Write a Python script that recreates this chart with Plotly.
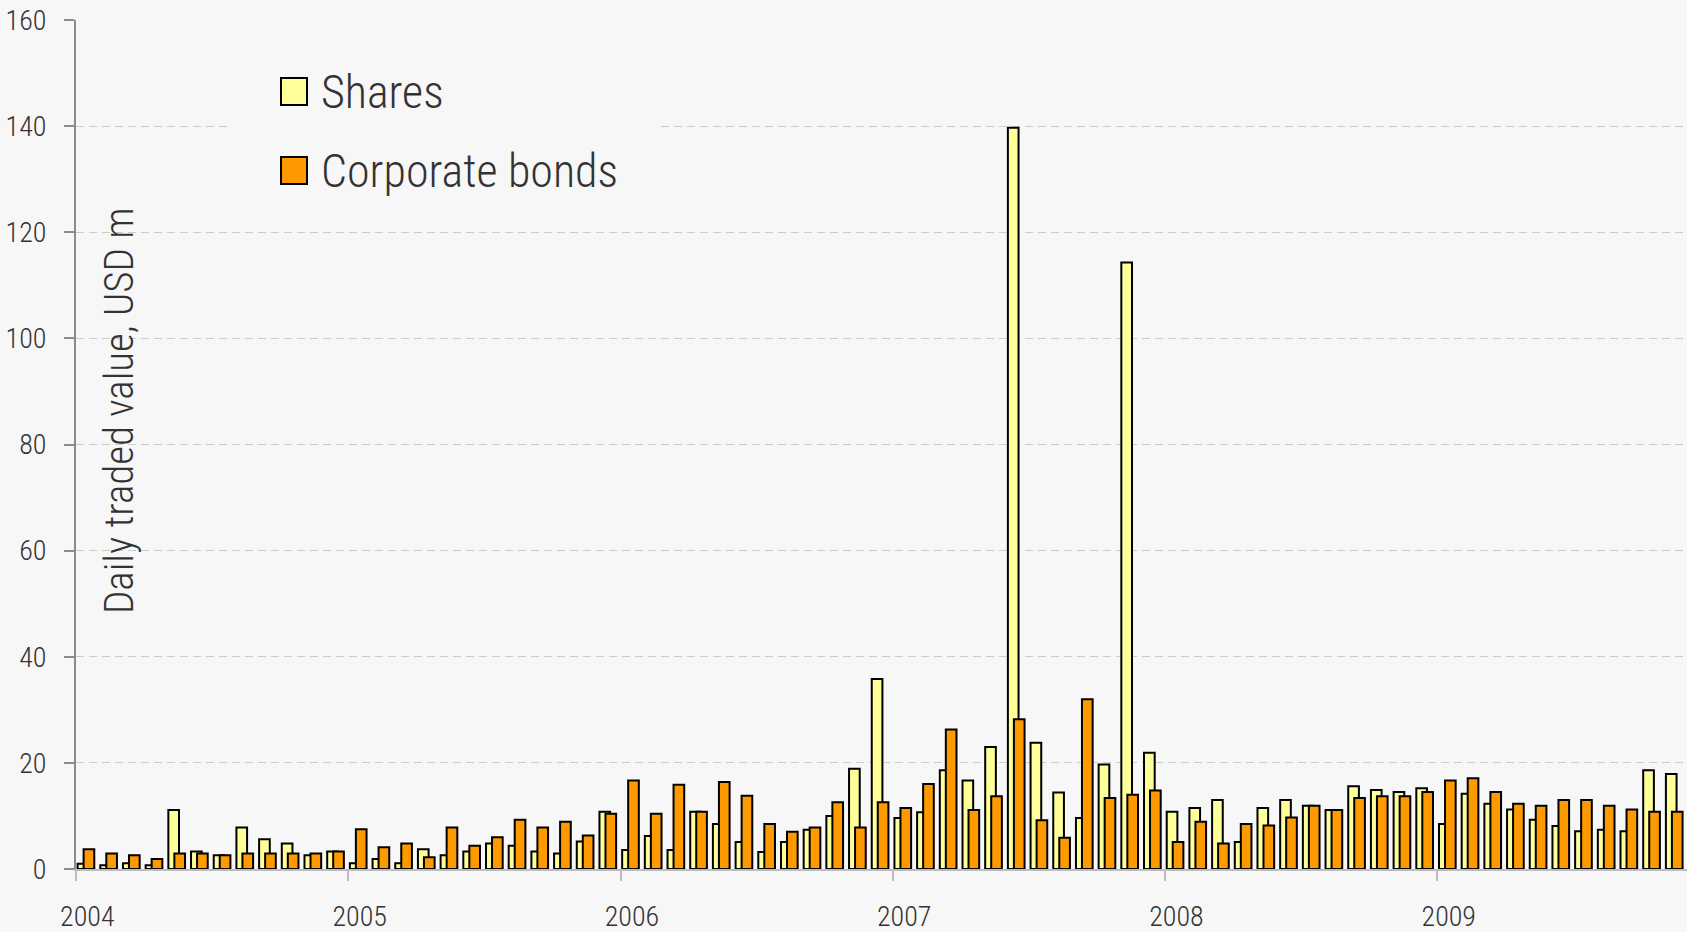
import plotly.graph_objects as go

years = ["2004", "2005", "2006", "2007", "2008", "2009"]
months_count = 71  # Jan 2004 .. Nov 2009

shares = [
    1.0, 0.7, 1.1, 0.7, 11.1, 3.3, 2.6, 7.8, 5.6, 4.8, 2.6, 3.3,
    1.1, 1.9, 1.1, 3.7, 2.6, 3.3, 4.8, 4.4, 3.3, 2.9, 5.2, 10.8,
    3.6, 6.2, 3.6, 10.8, 8.5, 5.1, 3.2, 5.1, 7.4, 10.0, 18.9, 35.8,
    9.6, 10.7, 18.6, 16.7, 23.0, 139.7, 23.8, 14.4, 9.6, 19.7, 114.3, 21.9,
    10.8, 11.5, 13.0, 5.1, 11.5, 13.0, 11.9, 11.1, 15.6, 14.9, 14.5, 15.2,
    8.5, 14.2, 12.3, 11.2, 9.3, 8.1, 7.1, 7.4, 7.1, 18.6, 17.9,
]
bonds = [
    3.7, 2.9, 2.6, 1.9, 2.9, 2.9, 2.6, 2.9, 2.9, 2.9, 2.9, 3.3,
    7.5, 4.1, 4.8, 2.2, 7.8, 4.4, 6.0, 9.3, 7.8, 8.9, 6.3, 10.4,
    16.7, 10.4, 15.9, 10.8, 16.4, 13.8, 8.5, 7.0, 7.8, 12.6, 7.8, 12.6,
    11.5, 16.0, 26.3, 11.1, 13.7, 28.2, 9.2, 5.9, 32.0, 13.4, 14.0, 14.8,
    5.1, 8.9, 4.8, 8.5, 8.2, 9.7, 11.9, 11.1, 13.4, 13.7, 13.7, 14.5,
    16.7, 17.1, 14.5, 12.3, 11.9, 13.0, 13.0, 11.9, 11.2, 10.8, 10.8,
]
series_names = ["Shares", "Corporate bonds"]
y_title = "Daily traded value, USD m"

x = list(range(months_count))
BG = "#f7f7f7"
FONT = "Roboto Condensed, Roboto, sans-serif"
TXT = "#333333"
YELLOW = "#ffff99"
ORANGE = "#ff9900"

fig = go.Figure()
fig.add_trace(go.Bar(x=x, y=shares, name=series_names[0], marker=dict(color=YELLOW, line=dict(color="black", width=2)),
                     offset=-0.43, width=0.47, showlegend=False))
fig.add_trace(go.Bar(x=x, y=bonds, name=series_names[1], marker=dict(color=ORANGE, line=dict(color="black", width=2)),
                     offset=-0.165, width=0.47, showlegend=False))

# plot area pixel geometry
L, R, T, B = 76, 1687, 20, 869
W, H = R - L, B - T
def px(v): return (v - L) / W
def py(v): return (B - v) / H

shapes = [
    dict(type="rect", xref="paper", yref="paper", x0=px(231), x1=px(658), y0=py(215), y1=py(45),
         fillcolor=BG, line=dict(width=0), layer="above"),
    dict(type="rect", xref="paper", yref="paper", x0=px(281), x1=px(307), y0=py(105), y1=py(78),
         fillcolor=YELLOW, line=dict(color="black", width=2), layer="above"),
    dict(type="rect", xref="paper", yref="paper", x0=px(281), x1=px(307), y0=py(184), y1=py(157),
         fillcolor=ORANGE, line=dict(color="black", width=2), layer="above"),
]
LEG_FONT = dict(family=FONT, size=46, color=TXT, weight=300)
annotations = [
    dict(xref="paper", yref="paper", x=px(319), y=py(92), text=series_names[0], showarrow=False,
         xanchor="left", yanchor="middle", font=LEG_FONT),
    dict(xref="paper", yref="paper", x=px(319), y=py(171), text=series_names[1], showarrow=False,
         xanchor="left", yanchor="middle", font=LEG_FONT),
    dict(xref="paper", yref="paper", x=px(119), y=py(411), text=y_title, showarrow=False, textangle=-90,
         xanchor="center", yanchor="middle", font=dict(family=FONT, size=41, color=TXT, weight=300)),
]

TICK_FONT = dict(family=FONT, size=28, color=TXT, weight=300)
fig.update_layout(
    width=1687, height=932,
    margin=dict(l=L, r=0, t=T, b=932 - B, autoexpand=False),
    paper_bgcolor=BG, plot_bgcolor=BG,
    barmode="overlay",
    font=dict(family=FONT, color=TXT),
    shapes=shapes, annotations=annotations,
    showlegend=False,
)
fig.update_xaxes(
    range=[-0.5, months_count - 0.5],
    tickvals=[12 * i for i in range(len(years))], ticktext=years,
    ticks="", ticklabelstandoff=21, automargin=False,
    tickfont=TICK_FONT,
    showgrid=False, zeroline=False,
    showline=True, linecolor="#bdbdbd", linewidth=2,
    minor=dict(tickvals=[12 * i - 0.5 for i in range(len(years))], ticks="outside", ticklen=10,
               tickcolor="#bdbdbd", tickwidth=2, showgrid=False),
)
fig.update_yaxes(
    range=[0, 160], dtick=20, tick0=0,
    ticks="outside", ticklen=10, tickcolor="#8c8c8c", tickwidth=1.5,
    ticklabelstandoff=12, automargin=False,
    tickfont=TICK_FONT,
    showgrid=True, gridcolor="#cccccc", gridwidth=1, griddash="8px,5px",
    zeroline=False, showline=True, linecolor="#8c8c8c", linewidth=2,
)

fig.write_html("out.html", config={"displayModeBar": False},
               post_script="document.body.style.margin='0';document.body.style.overflow='hidden';")
